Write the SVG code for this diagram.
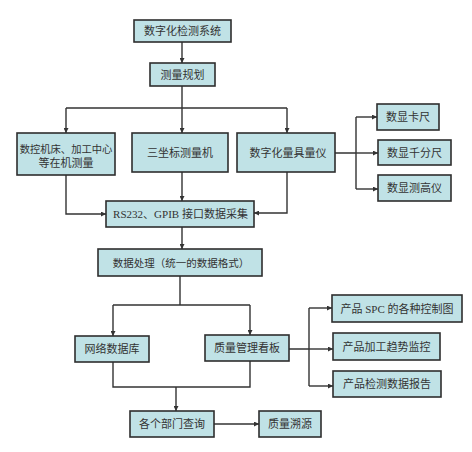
<svg xmlns="http://www.w3.org/2000/svg" width="472" height="452" viewBox="0 0 472 452">
<style>
.box{fill:#c0e2e6;stroke:#2e2e2e;stroke-width:1.6}
.t{font-family:"Liberation Serif","Noto Sans CJK SC",serif;font-size:11px;fill:#333;text-anchor:middle}
.c{fill:none;stroke:#333;stroke-width:1.4}
</style>
<defs>
<marker id="ah" viewBox="0 0 8 8" refX="8" refY="4" markerWidth="5" markerHeight="5" orient="auto" markerUnits="userSpaceOnUse">
<path d="M0,0 L8,4 L0,8 z" fill="#333"/>
</marker>
</defs>
<rect width="472" height="452" fill="#fff"/>
<g id="connectors">
<path class="c" d="M182,42 V63" marker-end="url(#ah)"/>
<path class="c" d="M182,86 V108 M66,108 H287"/>
<path class="c" d="M66,108 V133" marker-end="url(#ah)"/>
<path class="c" d="M182,108 V133" marker-end="url(#ah)"/>
<path class="c" d="M287,108 V133" marker-end="url(#ah)"/>
<path class="c" d="M66,175 V214 H106" marker-end="url(#ah)"/>
<path class="c" d="M182,172 V201" marker-end="url(#ah)"/>
<path class="c" d="M287,172 V213 H254" marker-end="url(#ah)"/>
<path class="c" d="M335,153 H356 M356,117 V189"/>
<path class="c" d="M356,117 H377" marker-end="url(#ah)"/>
<path class="c" d="M356,153 H378" marker-end="url(#ah)"/>
<path class="c" d="M356,189 H378" marker-end="url(#ah)"/>
<path class="c" d="M182,227 V249" marker-end="url(#ah)"/>
<path class="c" d="M180,276 V305 M113,305 H250"/>
<path class="c" d="M113,305 V336" marker-end="url(#ah)"/>
<path class="c" d="M250,305 V335" marker-end="url(#ah)"/>
<path class="c" d="M113,362 V387 H250 V361"/>
<path class="c" d="M176,387 V411" marker-end="url(#ah)"/>
<path class="c" d="M214,424 H259" marker-end="url(#ah)"/>
<path class="c" d="M289,349 H309 M309,308 V386"/>
<path class="c" d="M309,308 H332" marker-end="url(#ah)"/>
<path class="c" d="M309,349 H333" marker-end="url(#ah)"/>
<path class="c" d="M309,386 H333" marker-end="url(#ah)"/>
</g>
<g id="n1"><rect class="box" x="134" y="20" width="97" height="22"/><text class="t" x="182.5" y="35">数字化检测系统</text></g>
<g id="n2"><rect class="box" x="150" y="63" width="65" height="23"/><text class="t" x="182.5" y="78.5">测量规划</text></g>
<g id="n3"><rect class="box" x="17" y="133" width="98" height="42"/><text class="t" x="66" y="153" style="font-size:10.3px">数控机床、加工中心</text><text class="t" x="66" y="167">等在机测量</text></g>
<g id="n4"><rect class="box" x="132" y="133" width="96" height="39"/><text class="t" x="180" y="156.5">三坐标测量机</text></g>
<g id="n5"><rect class="box" x="237" y="133" width="98" height="39"/><text class="t" x="288" y="156.5">数字化量具量仪</text></g>
<g id="n6"><rect class="box" x="377" y="104" width="62" height="26"/><text class="t" x="408" y="121">数显卡尺</text></g>
<g id="n7"><rect class="box" x="378" y="140" width="73" height="25"/><text class="t" x="414.5" y="156.5">数显千分尺</text></g>
<g id="n8"><rect class="box" x="378" y="175" width="73" height="26"/><text class="t" x="414.5" y="192">数显测高仪</text></g>
<g id="n9"><rect class="box" x="106" y="201" width="148" height="26"/><text class="t" x="180.5" y="218">RS232、GPIB 接口数据采集</text></g>
<g id="n10"><rect class="box" x="98" y="249" width="164" height="27"/><text class="t" x="181" y="266.5" style="font-size:10.5px">数据处理（统一的数据格式）</text></g>
<g id="n11"><rect class="box" x="75" y="336" width="74" height="26"/><text class="t" x="112" y="353">网络数据库</text></g>
<g id="n12"><rect class="box" x="205" y="335" width="84" height="26"/><text class="t" x="247" y="352">质量管理看板</text></g>
<g id="n13"><rect class="box" x="332" y="295" width="130" height="27"/><text class="t" x="397" y="312.5">产品 SPC 的各种控制图</text></g>
<g id="n14"><rect class="box" x="333" y="333" width="107" height="27"/><text class="t" x="386.5" y="350.5">产品加工趋势监控</text></g>
<g id="n15"><rect class="box" x="333" y="371" width="108" height="26"/><text class="t" x="387" y="388">产品检测数据报告</text></g>
<g id="n16"><rect class="box" x="130" y="411" width="84" height="26"/><text class="t" x="172" y="428">各个部门查询</text></g>
<g id="n17"><rect class="box" x="259" y="411" width="62" height="26"/><text class="t" x="290" y="428">质量溯源</text></g>
</svg>
